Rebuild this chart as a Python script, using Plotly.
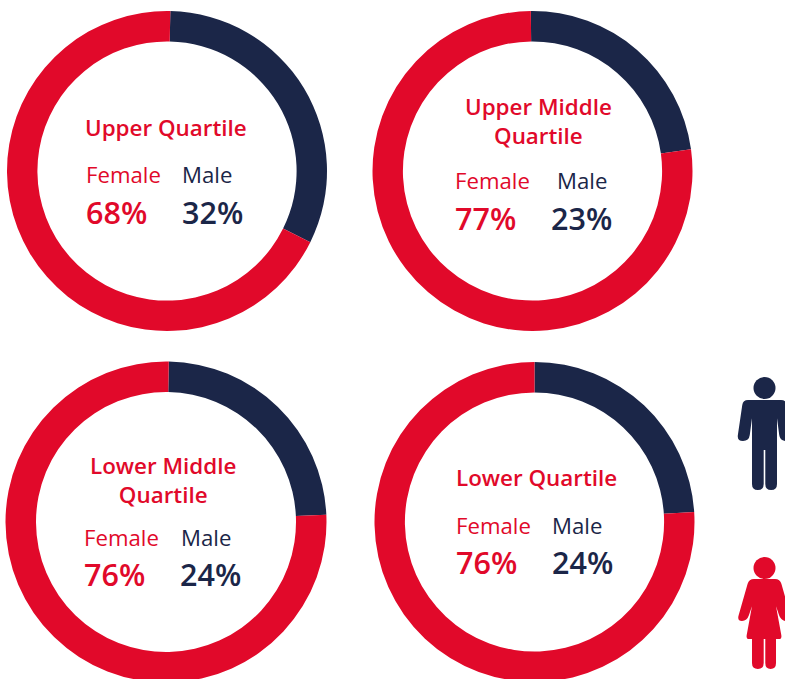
import math
import plotly.graph_objects as go

W, H = 785, 684
RED, NAVY = "#E1092A", "#1B2648"
FONT = "Open Sans"

titles = ["Upper Quartile", "Upper Middle<br>Quartile", "Lower Middle<br>Quartile", "Lower Quartile"]
female = [68, 77, 76, 76]
male = [32, 23, 24, 24]
series_names = ["Male", "Female"]

# layout in pixels: donut centre x, y, radius; start angle; title centre x, y; text columns and rows
centres = [(167, 171, 160), (532.5, 171, 160), (166, 522, 160.5), (534.5, 522, 160)]
start_angle = [1.2, -0.6, 1, 0]
title_pos = [(166, 127.5), (538.5, 121), (163, 480), (536, 477.5)]
female_x = [85.5, 454.5, 83.5, 455.5]
male_x = [181.5, 556.5, 180.5, 551.5]
pct_male_x = [181.5, 550.5, 179.5, 551.5]
label_y = [175, 181, 537, 525]
pct_y = [212, 218, 574, 562]

fig = go.Figure()
ann = []

def px(x):
    return x / W

def py(y):
    return 1 - y / H

def text(s, x, y, size, color, weight=400, anchor="left"):
    ann.append(dict(text=s, x=px(x), y=py(y), xref="paper", yref="paper", showarrow=False,
                    xanchor=anchor, yanchor="middle", align="center",
                    borderpad=0, borderwidth=0,
                    font=dict(family=FONT, size=size, color=color, weight=weight)))

for i in range(4):
    cx, cy, r = centres[i]
    fig.add_trace(go.Pie(
        labels=series_names, values=[male[i], female[i]], hole=0.81, sort=False,
        direction="clockwise", rotation=start_angle[i], textinfo="none", showlegend=False,
        marker=dict(colors=[NAVY, RED], line=dict(width=0)),
        domain=dict(x=[px(cx - r), px(cx + r)], y=[py(cy + r), py(cy - r)]),
    ))
    text(titles[i], title_pos[i][0], title_pos[i][1], 22.4, RED, 600, "center")
    text("Female", female_x[i], label_y[i], 22.2, RED)
    text("Male", male_x[i], label_y[i], 22.2, NAVY)
    text(f"{female[i]}%", female_x[i], pct_y[i], 30.5, RED, 600)
    text(f"{male[i]}%", pct_male_x[i], pct_y[i], 30.5, NAVY, 600)

def rounded(points):
    """Closed outline in paper coordinates; each point is (x, y, corner radius)."""
    n = len(points)
    cmds = []
    for k in range(n):
        x0, y0, _ = points[k - 1]
        x1, y1, rad = points[k]
        x2, y2, _ = points[(k + 1) % n]
        d0 = math.hypot(x0 - x1, y0 - y1)
        d2 = math.hypot(x2 - x1, y2 - y1)
        a = min(rad, d0 / 2) / d0
        b = min(rad, d2 / 2) / d2
        sx, sy = x1 + (x0 - x1) * a, y1 + (y0 - y1) * a
        ex, ey = x1 + (x2 - x1) * b, y1 + (y2 - y1) * b
        cmds.append(f"{'M' if k == 0 else 'L'}{px(sx):.5f},{py(sy):.5f}")
        cmds.append(f"Q{px(x1):.5f},{py(y1):.5f} {px(ex):.5f},{py(ey):.5f}")
    return " ".join(cmds) + " Z"

def blob(points, color):
    return dict(type="path", xref="paper", yref="paper", path=rounded(points),
                fillcolor=color, line=dict(width=0), layer="above")

def circle(cx, cy, r, color):
    return dict(type="circle", xref="paper", yref="paper", x0=px(cx - r), x1=px(cx + r),
                y0=py(cy + r), y1=py(cy - r), fillcolor=color, line=dict(width=0))

man_body = [(743, 400, 5), (786, 400, 5), (792, 441, 6), (780, 441, 6), (777, 418, 1),
            (777, 490, 6), (765.3, 490, 6), (765.3, 450, 0), (763.7, 450, 0), (763.7, 490, 6),
            (752, 490, 6), (752, 418, 1), (749, 441, 6), (737, 441, 6)]
woman_body = [(749, 579, 5), (780, 579, 5), (792, 621, 6), (781, 621, 6), (776, 606, 1),
              (782, 639, 4), (776, 639, 0), (776, 669, 6), (765.3, 669, 6), (765.3, 639, 0),
              (763.7, 639, 0), (763.7, 669, 6), (752, 669, 6), (752, 639, 0), (746, 639, 4),
              (752, 606, 1), (747, 621, 6), (737, 621, 6)]

shapes = [circle(764.5, 388, 11, NAVY), blob(man_body, NAVY),
          circle(764.5, 568, 11, RED), blob(woman_body, RED)]

fig.update_layout(width=W, height=H, margin=dict(l=0, r=0, t=0, b=0), autosize=False,
                  paper_bgcolor="white", plot_bgcolor="white", annotations=ann, shapes=shapes)

fig.write_html("out.html", config=dict(displayModeBar=False),
               post_script="document.documentElement.style.overflow='hidden';document.body.style.overflow='hidden';document.body.style.margin='0';")
